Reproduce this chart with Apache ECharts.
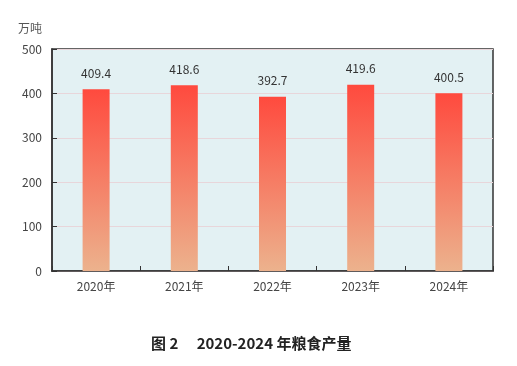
<!DOCTYPE html>
<html>
<head>
<meta charset="utf-8">
<script src="https://cdn.jsdelivr.net/npm/echarts@6/dist/echarts.min.js"></script>
<style>html,body{margin:0;padding:0;background:#fff;}#c{width:517px;height:366px;}</style>
</head>
<body>
<div id="c"></div>
<script>
const categories = ['2020年', '2021年', '2022年', '2023年', '2024年'];
const values = [409.4, 418.6, 392.7, 419.6, 400.5];
const yTicks = [0, 100, 200, 300, 400, 500];
const unitLabel = '万吨';
const titleText = '图 2\u3000 2020-2024 年粮食产量';

const chart = echarts.init(document.getElementById('c'));
const font = '"Noto Sans CJK SC", "Noto Sans", sans-serif';
chart.setOption({
  animation: false,
  title: {
    text: titleText,
    left: 146,
    top: 331,
    textStyle: { fontSize: 15, fontWeight: 'bold', color: '#222', fontFamily: font }
  },
  grid: {
    left: 52, right: 24, top: 49, bottom: 95,
    show: true, backgroundColor: '#e3f1f3', borderColor: '#333', borderWidth: 1.5
  },
  xAxis: {
    type: 'category',
    data: categories,
    axisLine: { lineStyle: { color: '#333', width: 1.5 } },
    axisTick: { show: true, inside: true, length: 5, lineStyle: { color: '#333' } },
    axisLabel: { color: '#444', fontSize: 12, margin: 9, fontFamily: font }
  },
  yAxis: {
    type: 'value',
    min: yTicks[0], max: yTicks[yTicks.length - 1], interval: 100,
    name: unitLabel,
    nameLocation: 'end',
    nameGap: 15,
    nameTextStyle: { color: '#555', fontSize: 12, align: 'right', padding: [0, 10, 0, 0], fontFamily: font },
    axisLine: { show: true, lineStyle: { color: '#333', width: 1.5 } },
    axisTick: { show: true, inside: true, length: 5, lineStyle: { color: '#333' } },
    axisLabel: { color: '#444', fontSize: 12, margin: 10, fontFamily: font },
    splitLine: { show: true, lineStyle: { color: '#e8d6da', width: 1 } }
  },
  series: [{
    type: 'bar',
    data: values,
    barWidth: 27,
    itemStyle: {
      color: new echarts.graphic.LinearGradient(0, 0, 0, 1, [
        { offset: 0, color: '#ff4a3e' },
        { offset: 1, color: '#ecb28d' }
      ])
    },
    label: {
      show: true, position: 'top', distance: 10,
      color: '#333', fontSize: 12, fontFamily: font,
      formatter: p => p.value.toFixed(1)
    }
  }]
});
</script>
</body>
</html>
